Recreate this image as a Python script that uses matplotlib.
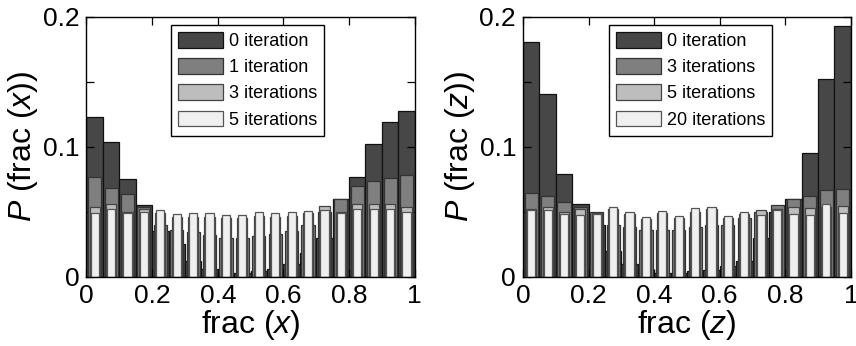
import numpy as np
import matplotlib.pyplot as plt
from matplotlib.ticker import MultipleLocator

plt.rcParams["font.family"] = "Liberation Sans"
plt.rcParams["mathtext.fontset"] = "custom"
plt.rcParams["mathtext.rm"] = "Liberation Sans"
plt.rcParams["mathtext.it"] = "Liberation Sans:italic"

# ======================
# HISTOGRAM DATA (20 bins on [0, 1])
# ======================
bin_edges = np.linspace(0, 1, 21)
bin_centers = (bin_edges[:-1] + bin_edges[1:]) / 2
bin_width = 0.05

# frac(x)
x_labels = ["0 iteration", "1 iteration", "3 iterations", "5 iterations"]
x_it0 = [0.123, 0.104, 0.0752, 0.0549, 0.035, 0.025, 0.012, 0.006, 0.003, 0.003,
         0.004, 0.006, 0.010, 0.018, 0.030, 0.060, 0.0765, 0.1018, 0.119, 0.1272]
x_it1 = [0.0764, 0.0685, 0.0633, 0.054, 0.040, 0.036, 0.034, 0.032, 0.030, 0.030,
         0.031, 0.033, 0.035, 0.040, 0.050, 0.0595, 0.0698, 0.0736, 0.0757, 0.078]
x_it3 = [0.0539, 0.0556, 0.050, 0.0523, 0.049, 0.046, 0.046, 0.046, 0.045, 0.045,
         0.047, 0.046, 0.047, 0.049, 0.0544, 0.050, 0.0557, 0.0557, 0.0557, 0.0538]
x_it5 = [0.0492, 0.052, 0.0492, 0.0497, 0.0515, 0.0485, 0.0487, 0.0487, 0.0472, 0.0472,
         0.0497, 0.0487, 0.0495, 0.0508, 0.0513, 0.0487, 0.0523, 0.0518, 0.0518, 0.0497]

# frac(z)
z_labels = ["0 iteration", "3 iterations", "5 iterations", "20 iterations"]
z_it0 = [0.1807, 0.1406, 0.079, 0.0558, 0.040, 0.020, 0.010, 0.005, 0.003, 0.003,
         0.004, 0.005, 0.008, 0.012, 0.030, 0.050, 0.060, 0.095, 0.1519, 0.1928]
z_it3 = [0.0643, 0.0617, 0.0571, 0.054, 0.050, 0.040, 0.038, 0.036, 0.036, 0.036,
         0.038, 0.040, 0.040, 0.045, 0.050, 0.0555, 0.0599, 0.0617, 0.0668, 0.0671]
z_it5 = [0.052, 0.054, 0.0501, 0.052, 0.049, 0.052, 0.048, 0.044, 0.049, 0.045,
         0.050, 0.052, 0.045, 0.048, 0.0514, 0.052, 0.0533, 0.053, 0.054, 0.0546]
z_it20 = [0.0514, 0.0514, 0.0483, 0.0476, 0.0483, 0.054, 0.0498, 0.0457, 0.0509, 0.047,
          0.0525, 0.054, 0.0466, 0.0496, 0.0478, 0.0514, 0.0482, 0.0476, 0.0559, 0.0489]

# style per layer: back (widest, darkest) to front (narrowest, lightest)
face_colors = ["#474747", "#7f7f7f", "#bdbdbd", "#efefef"]
edge_colors = ["#111111", "#333333", "#444444", "#555555"]
width_frac = [1.0, 0.8, 0.62, 0.5]


def draw_panel(ax, series, labels, var, legend_x):
    for k, vals in enumerate(series):
        ax.bar(bin_centers, vals, width=bin_width * width_frac[k],
               color=face_colors[k], edgecolor=edge_colors[k], linewidth=0.9,
               label=labels[k], zorder=k + 1)

    ax.set_xlim(0, 1)
    ax.set_ylim(0, 0.2)
    ax.set_xticks([0, 0.2, 0.4, 0.6, 0.8, 1])
    ax.set_xticklabels(["0", "0.2", "0.4", "0.6", "0.8", "1"])
    ax.set_yticks([0, 0.1, 0.2])
    ax.set_yticklabels(["0", "0.1", "0.2"])
    ax.yaxis.set_minor_locator(MultipleLocator(0.05))
    ax.tick_params(which="both", direction="in", top=True, right=True,
                   labelsize=19, length=6, width=0.9, pad=5)
    ax.tick_params(which="minor", length=6)
    for sp in ax.spines.values():
        sp.set_linewidth(1.0)
        sp.set_zorder(10)

    ax.set_xlabel(f"frac (${var}$)", fontsize=23, labelpad=0)
    ax.set_ylabel(f"$P$ (frac (${var}$))", fontsize=23, labelpad=2)

    ax.legend(loc="upper center", bbox_to_anchor=(legend_x, 0.968), fontsize=13,
              fancybox=False, edgecolor="black", framealpha=1,
              handlelength=2.5, handleheight=0.95, handletextpad=0.3,
              labelspacing=0.45, borderpad=0.4, borderaxespad=0)


fig = plt.figure(figsize=(8.56, 3.46), dpi=100)
ax1 = fig.add_axes([0.101, 0.2003, 0.3835, 0.7514])
ax2 = fig.add_axes([0.611, 0.2003, 0.383, 0.7514])

draw_panel(ax1, [x_it0, x_it1, x_it3, x_it5], x_labels, "x", 0.491)
draw_panel(ax2, [z_it0, z_it3, z_it5, z_it20], z_labels, "z", 0.511)

fig.savefig("out.png", dpi=100)
